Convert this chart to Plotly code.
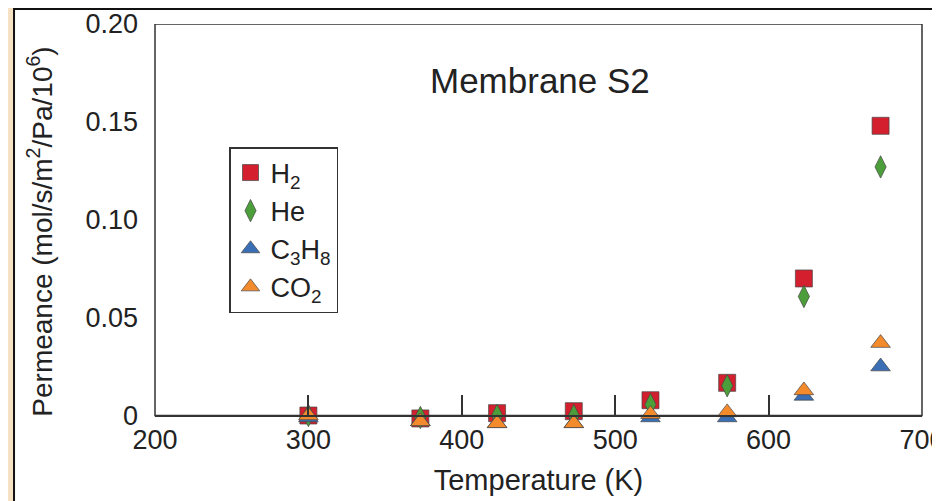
import plotly.graph_objects as go

# ---- data ----
temperature_K = [300, 373, 423, 473, 523, 573, 623, 673]
h2 = [0.000, -0.0015, 0.0012, 0.0022, 0.0078, 0.0167, 0.070, 0.148]
he = [0.000, -0.001, 0.000, 0.000, 0.0056, 0.0152, 0.0608, 0.127]
c3h8 = [-0.001, -0.003, -0.004, -0.004, -0.001, -0.001, 0.010, 0.025]
co2 = [0.000, -0.003, -0.004, -0.004, 0.0007, 0.0016, 0.0128, 0.037]

x_ticks = [200, 300, 400, 500, 600, 700]
y_ticks = [0, 0.05, 0.10, 0.15, 0.20]
y_tick_labels = ["0", "0.05", "0.10", "0.15", "0.20"]

X_RANGE = [200, 700]
Y_MIN, Y_MAX = 0.0, 0.20
Y_PAD = -0.012  # extra room below the axis so slightly negative markers stay visible

FONT = "Liberation Sans, Arial, Helvetica, sans-serif"
TXT = "#222222"
LINE = "#333333"

series = [
    ("H<sub>2</sub>", h2, "square", "#d31f2e", 17),
    ("He", he, "diamond-tall", "#4c9e3a", 16),
    ("C<sub>3</sub>H<sub>8</sub>", c3h8, "triangle-up", "#3b6fb5", 17),
    ("CO<sub>2</sub>", co2, "triangle-up", "#f38a2b", 17),
]

fig = go.Figure()
for name, vals, sym, col, sz in series:
    fig.add_trace(go.Scatter(
        x=temperature_K, y=vals, mode="markers", name=name,
        cliponaxis=False,
        marker=dict(symbol=sym, color=col, size=sz,
                    line=dict(color="rgba(70,70,70,0.7)", width=1)),
    ))

axis_pos = (Y_MIN - Y_PAD) / (Y_MAX - Y_PAD)

fig.update_layout(
    width=940, height=501,
    margin=dict(l=147, r=26, t=16, b=70),
    paper_bgcolor="#f6e2c2",
    plot_bgcolor="rgba(0,0,0,0)",
    font=dict(family=FONT, size=27, color=TXT),
    showlegend=True,
    legend=dict(
        x=0.0965, y=0.7036, xanchor="left", yanchor="top",
        bgcolor="white", bordercolor=LINE, borderwidth=1.5,
        font=dict(family=FONT, size=27, color=TXT),
        itemwidth=30,
    ),
    xaxis=dict(
        range=X_RANGE, tickvals=x_ticks, ticktext=[str(v) for v in x_ticks],
        anchor="free", position=axis_pos,
        ticks="inside", ticklen=20, tickwidth=1.5, tickcolor=LINE,
        showline=True, linecolor=LINE, linewidth=1.5,
        showgrid=False, zeroline=False, automargin=False,
        tickfont=dict(size=27, color=TXT),
        title=dict(text="Temperature (K)", font=dict(size=29, color=TXT), standoff=15),
    ),
    xaxis2=dict(
        range=X_RANGE, tickvals=x_ticks, overlaying="x", side="top", anchor="y",
        ticks="inside", ticklen=20, tickwidth=1.5, tickcolor=LINE,
        showticklabels=False, showgrid=False, zeroline=False, showline=False,
    ),
    yaxis=dict(
        range=[Y_PAD, Y_MAX], tickvals=y_ticks, ticktext=y_tick_labels,
        ticks="", showline=False, ticklabelstandoff=16,
        showgrid=False, zeroline=False, automargin=False,
        tickfont=dict(size=27, color=TXT),
        title=dict(text="Permeance (mol/s/m<sup>2</sup>/Pa/10<sup>6</sup>)",
                   font=dict(size=28, color=TXT), standoff=24),
    ),
    yaxis2=dict(
        range=[Y_PAD, Y_MAX], overlaying="y", side="right", tickvals=y_ticks,
        ticks="inside", ticklen=20, tickwidth=1.5, tickcolor=LINE,
        showticklabels=False, showgrid=False, zeroline=False, showline=False,
    ),
    shapes=[
        dict(type="rect", xref="paper", yref="paper", layer="below",
             x0=-0.1838, x1=1.2, y0=-0.4, y1=1.0361,
             fillcolor="white", line=dict(color="#111111", width=2)),
        dict(type="rect", xref="paper", yref="y", layer="below",
             x0=0, x1=1, y0=Y_MIN, y1=Y_MAX,
             fillcolor="rgba(0,0,0,0)", line=dict(color=LINE, width=1.5)),
    ],
    annotations=[dict(
        text="Membrane S2", xref="paper", yref="paper",
        x=0.502, y=0.865, xanchor="center", yanchor="middle",
        showarrow=False, font=dict(family=FONT, size=35, color=TXT),
    )],
)

fig.write_html("out.html")
